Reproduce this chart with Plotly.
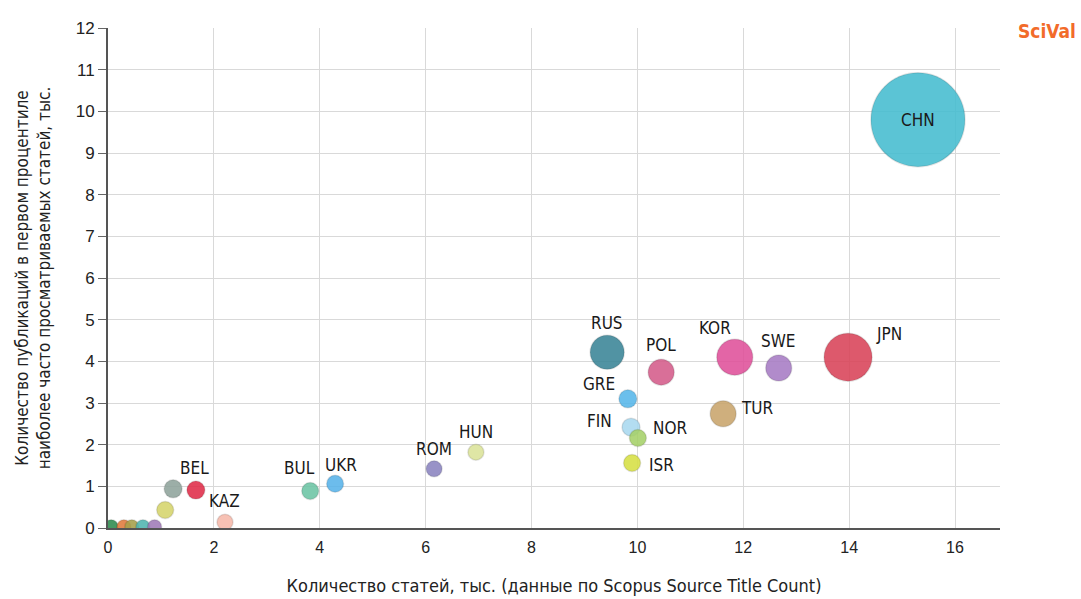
import plotly.graph_objects as go

countries = ["CHN", "JPN", "KOR", "SWE", "POL", "RUS", "TUR", "GRE", "FIN", "NOR", "ISR",
             "HUN", "ROM", "UKR", "BUL", "BEL", "KAZ", "", "", "", "", "", "", ""]
articles_k = [15.30, 13.98, 11.84, 12.67, 10.45, 9.43, 11.62, 9.82, 9.88, 10.01, 9.90,
              6.95, 6.16, 4.29, 3.82, 1.66, 2.21, 1.23, 1.08, 0.06, 0.30, 0.45, 0.66, 0.88]
top1_k = [9.80, 4.10, 4.10, 3.84, 3.74, 4.22, 2.74, 3.10, 2.42, 2.16, 1.56,
          1.82, 1.42, 1.06, 0.89, 0.91, 0.14, 0.94, 0.43, 0.03, 0.03, 0.03, 0.03, 0.03]
bubble_size = [94, 48, 36, 26, 26, 34, 26, 18, 18, 17, 17,
               16, 16, 17, 17, 18, 16, 18, 17, 14, 14, 14, 14, 14]
colors = ["#45bdd0", "#d94358", "#e0509a", "#a77cc4", "#d45c8a", "#3a8597", "#c9a56c",
          "#57b7ea", "#a9d9f0", "#a6d169", "#d7e044", "#dbe399", "#8a84c0", "#58b3ea",
          "#6cc4a4", "#e02c48", "#f7b9aa", "#8fa39b", "#d6d46c", "#2e8b4e", "#e07a3c",
          "#a6a04a", "#4fb6b0", "#a07ab8"]

# label offsets (pixels) relative to bubble centers
label_offsets = {
    "CHN": (0, 0), "JPN": (41, 23), "KOR": (-20, 29), "SWE": (0, 27), "POL": (0, 27),
    "RUS": (0, 29), "TUR": (34, 6), "GRE": (-29, 15), "FIN": (-32, 6), "NOR": (32, 10),
    "ISR": (29, -2), "HUN": (0, 20), "ROM": (0, 20), "UKR": (6, 19), "BUL": (-11, 23),
    "BEL": (-1, 22), "KAZ": (0, 21),
}

FONT = "DejaVu Sans Condensed, Roboto, Liberation Sans Narrow, Arial Narrow"

fig = go.Figure()
fig.add_trace(go.Scatter(
    x=articles_k, y=top1_k, mode="markers",
    marker=dict(size=bubble_size, sizemode="diameter", color=colors, opacity=0.88,
                line=dict(width=1.5, color="rgba(0,0,0,0.12)")),
    hoverinfo="skip", showlegend=False,
))

for name, xv, yv in zip(countries, articles_k, top1_k):
    if not name:
        continue
    dx, dy = label_offsets[name]
    fig.add_annotation(x=xv, y=yv, xref="x", yref="y", text=name, showarrow=False,
                       xshift=dx, yshift=dy,
                       font=dict(family=FONT, size=17, color="#1a1a1a"))

fig.add_annotation(x=1.0874, y=1.0, xref="paper", yref="paper", xanchor="right", yanchor="middle",
                   yshift=-3,
                   text="<b>SciVal</b>", showarrow=False,
                   font=dict(family=FONT, size=19, color="#f26b2a"))

fig.update_layout(
    width=1081, height=599,
    margin=dict(l=108, r=81, t=28, b=71),
    paper_bgcolor="white", plot_bgcolor="white",
    font=dict(family=FONT, size=16, color="#222"),
    xaxis=dict(range=[0, 16.85], tickvals=[0, 2, 4, 6, 8, 10, 12, 14, 16],
               showgrid=True, gridcolor="#d9d9d9", gridwidth=1,
               showline=True, linecolor="#555", linewidth=2, zeroline=False,
               ticks="outside", ticklen=4, tickcolor="rgba(0,0,0,0)",
               tickfont=dict(family="Liberation Sans, Arial", size=16),
               automargin=False,
               title=dict(text="Количество статей, тыс. (данные по Scopus Source Title Count)",
                          font=dict(size=18), standoff=24)),
    yaxis=dict(range=[0, 12], tickvals=list(range(0, 13)),
               showgrid=True, gridcolor="#d9d9d9", gridwidth=1,
               showline=True, linecolor="#555", linewidth=2, zeroline=False,
               ticks="outside", ticklen=8, tickcolor="#666",
               tickfont=dict(family="Liberation Sans, Arial", size=17),
               automargin=False,
               title=dict(text="Количество публикаций в первом процентиле<br>наиболее часто просматриваемых статей, тыс.",
                          font=dict(size=17), standoff=21)),
)

fig.write_html("out.html", config={"displayModeBar": False},
               post_script="document.body.style.margin='0';")
